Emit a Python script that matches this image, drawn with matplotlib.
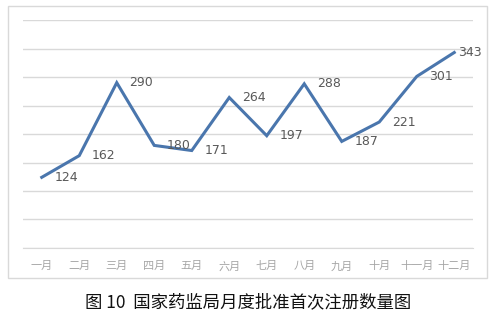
import matplotlib
matplotlib.use("Agg")
import matplotlib.pyplot as plt
from matplotlib.patches import Rectangle

plt.rcParams['font.family'] = ['Noto Sans CJK SC', 'DejaVu Sans']

months = ['一月', '二月', '三月', '四月', '五月', '六月',
          '七月', '八月', '九月', '十月', '十一月', '十二月']
counts = [124, 162, 290, 180, 171, 264, 197, 288, 187, 221, 301, 343]
title = '图 10  国家药监局月度批准首次注册数量图'

fig = plt.figure(figsize=(5, 3.15), dpi=100)
fig.patch.set_facecolor('white')

# chart frame, kept behind the axes
fig.patches.append(Rectangle((0.016, 0.1175), 0.958, 0.8635, transform=fig.transFigure,
                             facecolor='white', edgecolor='#d9d9d9', linewidth=1.0,
                             zorder=-10))

ax = fig.add_axes([0.046, 0.2127, 0.9, 0.7238])
x = list(range(len(months)))
ax.plot(x, counts, color='#4a76ad', linewidth=2.2, solid_joinstyle='miter')

for xi, v in zip(x, counts):
    off = 3 if xi == len(x) - 1 else 9
    ax.annotate(str(v), (xi, v), xytext=(off, 0), textcoords='offset points',
                ha='left', va='center', fontsize=9, color='#595959',
                family='DejaVu Sans')

ax.set_xlim(-0.5, len(months) - 0.5)
ax.set_ylim(0, 400)
ax.set_yticks(range(0, 401, 50))
ax.yaxis.grid(True, color='#d9d9d9', linewidth=1.0)
ax.set_axisbelow(True)
ax.tick_params(axis='y', left=False, labelleft=False)
ax.tick_params(axis='x', bottom=False, pad=6)
ax.set_xticks(x)
ax.set_xticklabels(months, fontsize=8, color='#a6a6a6')
for s in ['top', 'right', 'left']:
    ax.spines[s].set_visible(False)
ax.spines['bottom'].set_color('#d9d9d9')
ax.patch.set_alpha(0)

fig.text(0.497, 0.041, title, ha='center', va='center', fontsize=12.5,
         fontweight='medium', color='#111111')

fig.savefig('out.png', dpi=100)
